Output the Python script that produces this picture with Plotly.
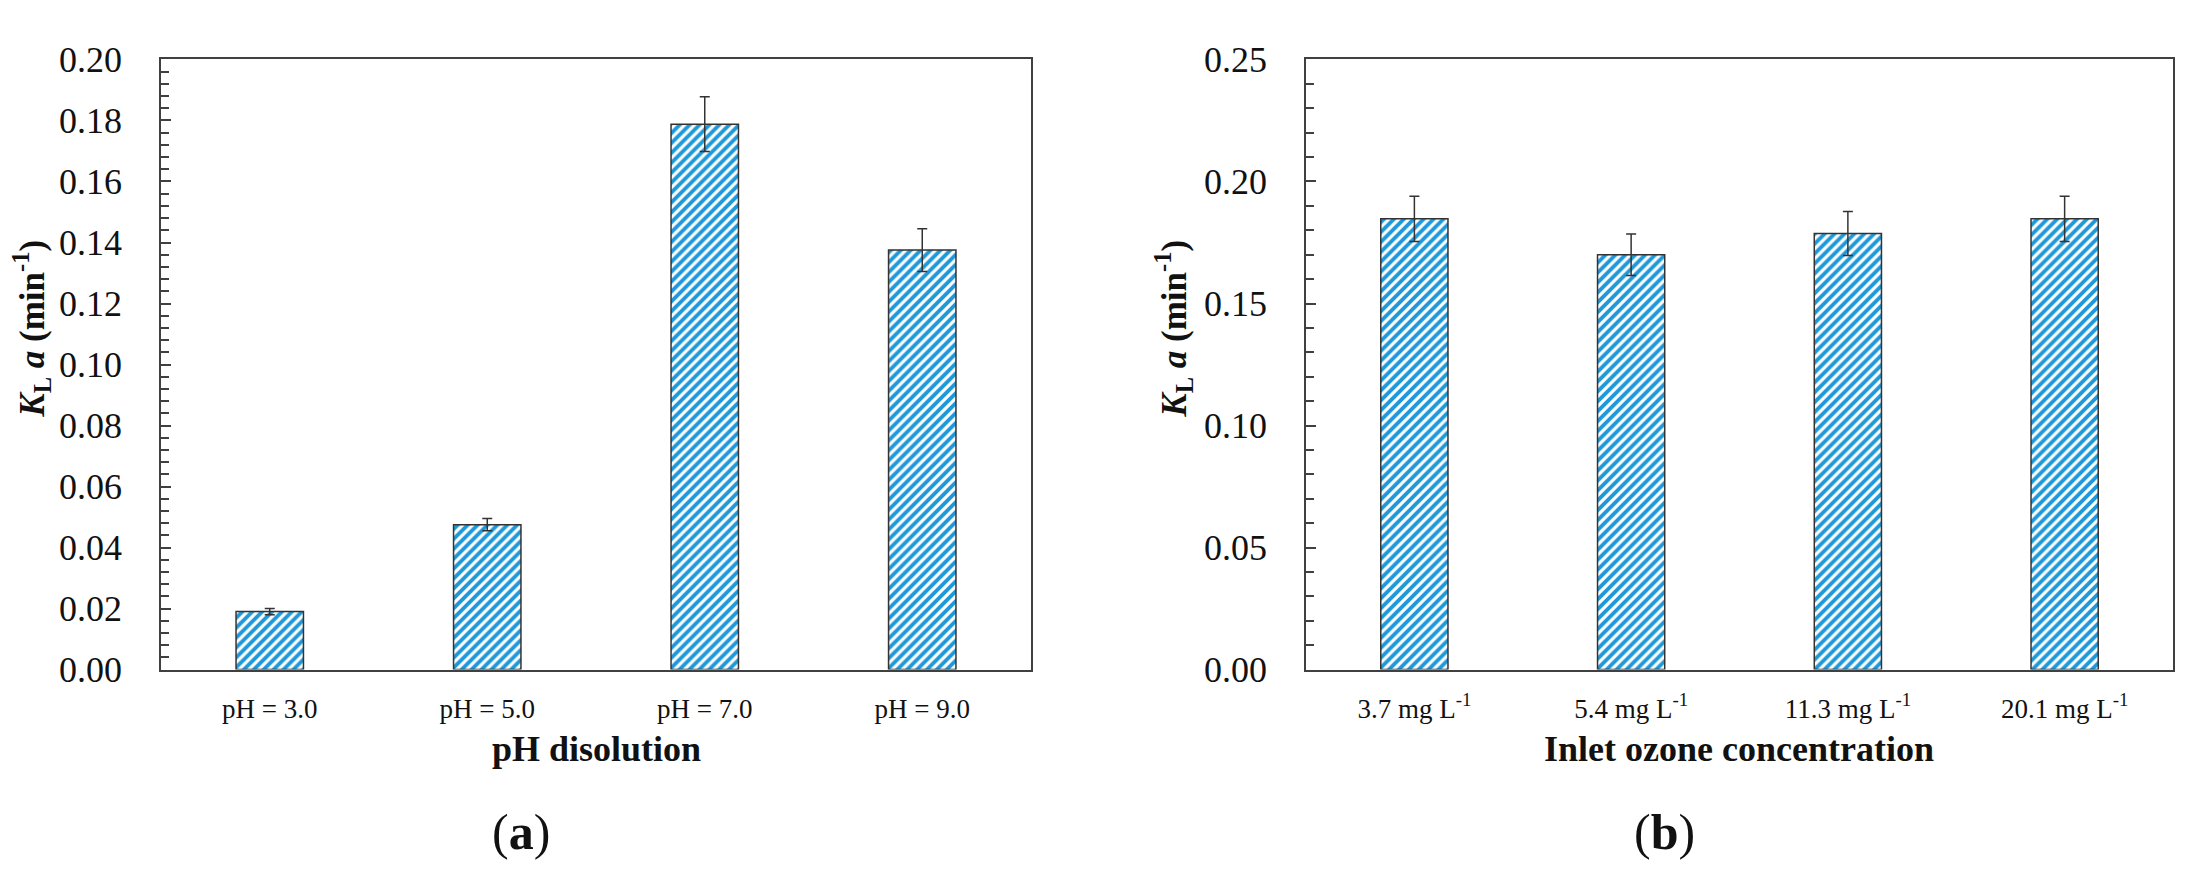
import plotly.graph_objects as go

# ---- data ----
ph_categories = ["pH = 3.0", "pH = 5.0", "pH = 7.0", "pH = 9.0"]
ph_kla = [0.019, 0.0475, 0.1788, 0.1375]
ph_err = [0.001, 0.002, 0.009, 0.007]

ozone_categories = ["3.7 mg L<sup>-1</sup>", "5.4 mg L<sup>-1</sup>",
                    "11.3 mg L<sup>-1</sup>", "20.1 mg L<sup>-1</sup>"]
ozone_kla = [0.1847, 0.170, 0.1787, 0.1847]
ozone_err = [0.0093, 0.0085, 0.009, 0.0093]

left_yticks = [0.00, 0.02, 0.04, 0.06, 0.08, 0.10, 0.12, 0.14, 0.16, 0.18, 0.20]
right_yticks = [0.00, 0.05, 0.10, 0.15, 0.20, 0.25]

# ---- style ----
W, H = 2192, 885
FONT = "Liberation Serif"
BLUE = "#1E98DA"
DARK = "#333333"
AXIS = "#404040"

def px_x(p):
    return p / W

def px_y(p):
    return 1 - p / H

xl = [px_x(153), px_x(1023)]
xr = [px_x(1298), px_x(2165)]
yd = [px_y(673), px_y(34)]

def bar(x, y, err, xa, ya):
    return go.Bar(
        x=x, y=y, xaxis=xa, yaxis=ya, width=0.31,
        marker=dict(color="white", line=dict(color=DARK, width=1.5),
                    pattern=dict(shape="/", fgcolor=BLUE, bgcolor="white",
                                 size=7, solidity=0.55, fillmode="replace")),
        error_y=dict(type="data", array=err, color=DARK, thickness=1.5, width=5),
        showlegend=False, hoverinfo="x+y",
    )

fig = go.Figure()
fig.add_trace(bar(ph_categories, ph_kla, ph_err, "x", "y"))
fig.add_trace(bar(ozone_categories, ozone_kla, ozone_err, "x2", "y2"))

xcommon = dict(showline=True, linecolor=AXIS, linewidth=1.5, mirror=True,
               ticks="", showgrid=False, zeroline=False, range=[-0.5, 3.5],
               tickfont=dict(family=FONT, size=27, color="#111"),
               ticklabelstandoff=14, type="category")
ycommon = dict(showline=True, linecolor=AXIS, linewidth=1.5, mirror=True,
               ticks="inside", ticklen=10, tickwidth=1.5, tickcolor=AXIS,
               showgrid=False, zeroline=False, tickformat=".2f",
               tickfont=dict(family=FONT, size=36, color="#111"),
               ticklabelstandoff=30)

fig.update_layout(
    width=W, height=H,
    margin=dict(l=0, r=0, t=0, b=0),
    font=dict(family=FONT),
    paper_bgcolor="white", plot_bgcolor="white",
    xaxis=dict(domain=xl, anchor="y", **xcommon),
    yaxis=dict(domain=yd, anchor="x", range=[0, 0.20], tickvals=left_yticks,
               minor=dict(dtick=0.004, ticks="inside", ticklen=8, tickcolor=AXIS, tickwidth=1.5),
               **ycommon),
    xaxis2=dict(domain=xr, anchor="y2", **xcommon),
    yaxis2=dict(domain=yd, anchor="x2", range=[0, 0.25], tickvals=right_yticks,
                minor=dict(dtick=0.01, ticks="inside", ticklen=8, tickcolor=AXIS, tickwidth=1.5),
                **ycommon),
)

ytitle = "<b><i>K</i><sub>L</sub> <i>a</i> (min<sup>-1</sup>)</b>"
ymid = px_y(316)
ann = [
    dict(text=ytitle, x=px_x(24), y=ymid, textangle=-90),
    dict(text=ytitle, x=px_x(1166), y=ymid, textangle=-90),
    dict(text="<b>pH disolution</b>", x=px_x(588), y=px_y(756), font_size=36),
    dict(text="<b>Inlet ozone concentration</b>", x=px_x(1731), y=px_y(756), font_size=36),
    dict(text="(<b>a</b>)", x=px_x(513), y=px_y(843), font_size=50),
    dict(text="(<b>b</b>)", x=px_x(1656), y=px_y(843), font_size=50),
]
for a in ann:
    fs = a.pop("font_size", 35)
    fig.add_annotation(xref="paper", yref="paper", showarrow=False,
                       xanchor="center", yanchor="middle",
                       font=dict(family=FONT, size=fs, color="#111"), **a)

fig.write_html("out.html")
